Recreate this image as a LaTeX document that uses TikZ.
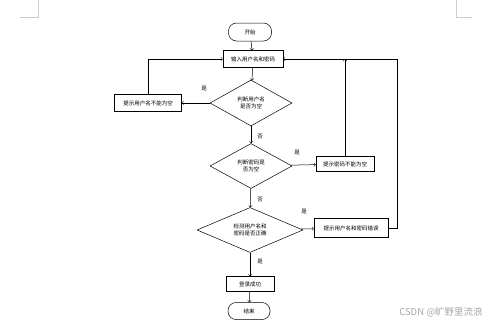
\documentclass[tikz,border=0pt]{standalone}
\usepackage{fontspec}
\newfontfamily\cjk{Noto Sans CJK SC}
\usetikzlibrary{shapes.geometric}
\begin{document}
\begin{tikzpicture}[x=1pt, y=-1pt, line width=0.5pt,
  every node/.style={font=\cjk\fontsize{5.5}{7}\selectfont},
  terminal/.style={draw, rounded corners=8pt, minimum width=43pt, minimum height=18pt, inner sep=1pt},
  procbox/.style={draw, minimum height=17pt, inner sep=3pt},
  decision/.style={draw, diamond, aspect=2, inner sep=0pt, align=center},
  flow/.style={->}]

  \useasboundingbox (0,0) rectangle (499,324);

  % Page corner marks
  \draw[gray!40] (20,17) -- (38,17) -- (38,0);
  \draw[gray!40] (472,17) -- (456,17) -- (456,0);

  % Start and input
  \node[terminal] (start) at (250,32) {开始};
  \node[procbox, minimum width=60pt] (input) at (253,59) {输入用户名和密码};

  % Decisions
  \node[decision, minimum width=82pt, minimum height=46pt] (d1) at (251,103) {判断用户名\\是否为空};
  \node[decision, minimum width=82pt, minimum height=45pt] (d2) at (251,166) {判断密码是\\否为空};
  \node[decision, minimum width=106pt, minimum height=45pt] (d3) at (250,230) {检测用户名和\\密码是否正确};

  % Messages
  \node[procbox, minimum width=67pt] (msg1) at (148,103) {提示用户名不能为空};
  \node[procbox, minimum width=58pt, minimum height=15pt] (msg2) at (345,164) {提示密码不能为空};
  \node[procbox, minimum width=74pt, minimum height=19pt] (msg3) at (351,228) {提示用户名和密码错误};

  % Success and end
  \node[procbox, minimum width=48pt, minimum height=15pt] (ok) at (250,284) {登录成功};
  \node[terminal, minimum width=42pt, minimum height=17pt] (end) at (249,311) {结束};

  % Loop corner
  \coordinate (loopR) at (397,228);

  % Connectors
  \draw[flow] (start) -- (input);
  \draw[flow] (input) -- (d1);
  \draw[flow] (d1) -- (msg1);
  \draw[flow] (msg1.north) |- (input.west);
  \draw[flow] (d1) -- (d2);
  \draw[flow] (d2) -- (msg2);
  \draw[flow] (msg2.north) -- (msg2.north |- input.east);
  \draw[flow] (d2) -- (d3);
  \draw[flow] (d3) -- (msg3);
  \draw[flow] (msg3.east) -- (loopR) |- (input.east);
  \draw[flow] (d3) -- (ok);
  \draw[flow] (ok) -- (end);

  % Labels
  \node (yes1) at (204,89) {是};
  \node (no1) at (260,137) {否};
  \node (yes2) at (297,153) {是};
  \node (no2) at (260,200) {否};
  \node (yes3) at (304,212) {是};
  \node (yes4) at (260,262) {是};

  % Watermark
  \node[gray!70, font=\cjk\fontsize{9.5}{11}\selectfont] (mark) at (441,312) {CSDN @旷野里流浪};

\end{tikzpicture}
\end{document}
